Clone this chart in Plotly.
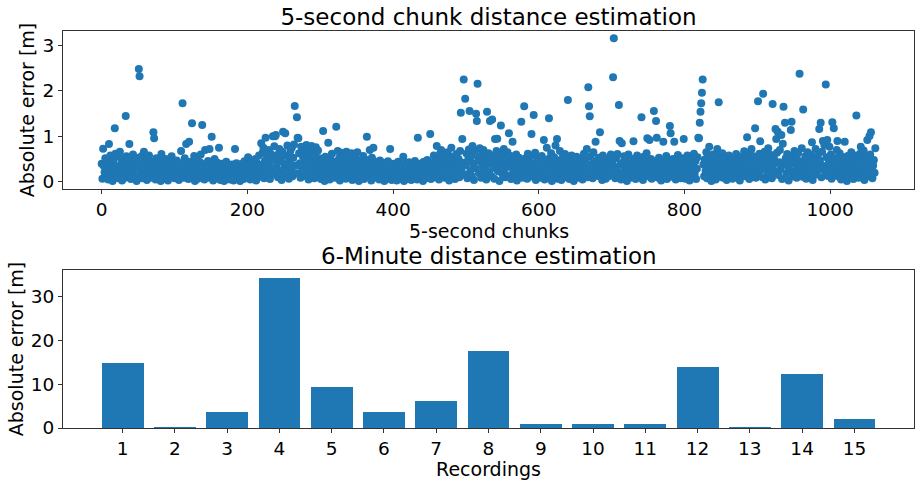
import plotly.graph_objects as go
from plotly.subplots import make_subplots

# ---- Data: 5-second chunk absolute errors [m] ----
err_000 = [0.40, 0.07, 0.73, 0.35, 0.21, 0.52, 0.10, 0.44, 0.28, 0.05, 0.83, 0.31, 0.58, 0.16, 0.39, 0.02, 0.47, 0.25, 1.18, 0.62,
           0.12, 0.34, 0.55, 0.08, 0.29, 0.66, 0.18, 0.41, 0.03, 0.50, 0.22, 0.37, 0.09, 1.45, 0.56, 0.27, 0.14, 0.48, 0.83, 0.33,
           0.06, 0.45, 0.19, 0.60, 0.26, 0.11, 0.38, 0.53, 0.02, 0.30, 0.42, 2.48, 2.32, 0.15, 0.36, 0.57, 0.08, 0.24, 0.66, 0.43,
           0.13, 0.31, 0.04, 0.49, 0.20, 0.58, 0.35, 0.09, 0.27, 0.44, 0.17, 1.09, 0.96, 0.38, 0.05, 0.52, 0.23, 0.32, 0.11, 0.46,
           0.28, 0.02, 0.61, 0.19, 0.40, 0.07, 0.34, 0.25, 0.50, 0.14, 0.37, 0.03, 0.29, 0.45, 0.10, 0.21, 0.56, 0.33, 0.16, 0.42]
err_100 = [0.08, 0.36, 0.22, 0.47, 0.13, 0.30, 0.04, 0.41, 0.26, 0.68, 0.18, 1.73, 0.35, 0.09, 0.52, 0.24, 0.83, 0.15, 0.39, 0.06,
           0.88, 0.28, 0.44, 0.11, 1.29, 0.33, 0.20, 0.57, 0.02, 0.38, 0.25, 0.49, 0.07, 0.31, 0.16, 0.43, 0.60, 0.12, 1.25, 0.34,
           0.21, 0.05, 0.70, 0.40, 0.27, 0.14, 0.46, 0.09, 0.72, 0.32, 0.19, 0.99, 0.37, 0.03, 0.24, 0.50, 0.13, 0.29, 0.08, 0.42,
           0.17, 0.75, 0.26, 0.04, 0.35, 0.11, 0.40, 0.22, 0.02, 0.31, 0.15, 0.44, 0.07, 0.28, 0.19, 0.36, 0.05, 0.25, 0.12, 0.38,
           0.21, 0.03, 0.30, 0.72, 0.14, 0.41, 0.08, 0.26, 0.18, 0.33, 0.02, 0.23, 0.39, 0.10, 0.29, 0.06, 0.45, 0.16, 0.34, 0.09]
err_200 = [0.27, 0.54, 0.12, 0.38, 0.05, 0.31, 0.46, 0.19, 0.09, 0.35, 0.24, 0.50, 0.03, 0.42, 0.16, 0.29, 0.58, 0.11, 0.37, 0.85,
           0.22, 0.64, 0.75, 0.08, 0.45, 0.97, 0.30, 0.55, 0.14, 0.70, 0.40, 0.06, 0.62, 0.26, 0.48, 1.00, 0.18, 0.78, 1.00, 1.03,
           0.33, 0.59, 0.10, 0.44, 0.72, 0.21, 0.51, 0.04, 0.66, 1.10, 0.28, 0.39, 1.07, 0.15, 0.57, 0.80, 0.34, 0.07, 0.46, 0.68,
           0.25, 0.75, 0.12, 0.53, 0.82, 1.67, 0.36, 0.19, 1.42, 0.97, 0.96, 0.63, 0.41, 0.09, 0.77, 0.30, 0.56, 0.22, 0.70, 0.47,
           0.13, 0.81, 0.38, 0.60, 0.05, 0.74, 0.27, 0.49, 0.79, 0.16, 0.65, 0.35, 0.08, 0.57, 0.76, 0.24, 0.43, 0.69, 0.11, 0.52]
err_300 = [0.30, 0.06, 0.45, 0.18, 1.12, 0.37, 0.02, 0.55, 0.24, 0.41, 0.11, 0.86, 0.33, 0.05, 0.49, 0.20, 0.62, 0.14, 0.38, 0.27,
           0.09, 0.44, 1.21, 0.31, 0.68, 0.17, 0.52, 0.03, 0.36, 0.64, 0.22, 0.47, 0.12, 0.58, 0.29, 0.07, 0.66, 0.40, 0.19, 0.34,
           0.54, 0.10, 0.26, 0.63, 0.04, 0.43, 0.21, 0.35, 0.08, 0.50, 0.15, 0.65, 0.28, 0.02, 0.39, 0.23, 0.46, 0.13, 0.32, 0.57,
           0.06, 0.41, 0.19, 0.30, 0.99, 0.11, 0.48, 0.25, 0.70, 0.36, 0.03, 0.53, 0.17, 0.75, 0.28, 0.09, 0.44, 0.22, 0.38, 0.14,
           0.31, 0.05, 0.47, 0.20, 0.35, 0.10, 0.42, 0.26, 0.02, 0.39, 0.16, 0.30, 0.07, 0.45, 0.24, 0.12, 0.72, 0.33, 0.04, 0.28]
err_400 = [0.18, 0.40, 0.09, 0.27, 0.35, 0.03, 0.22, 0.44, 0.13, 0.31, 0.06, 0.25, 0.38, 0.15, 0.55, 0.02, 0.29, 0.41, 0.11, 0.20,
           0.34, 0.07, 0.43, 0.18, 0.26, 0.04, 0.37, 0.14, 0.30, 0.09, 0.46, 0.21, 0.33, 0.05, 0.97, 0.24, 0.12, 0.40, 0.28, 0.16,
           0.36, 0.02, 0.44, 0.19, 0.31, 0.08, 0.25, 0.48, 0.13, 0.38, 0.22, 1.05, 0.06, 0.34, 0.17, 0.42, 0.58, 0.27, 0.10, 0.45,
           0.79, 0.20, 0.52, 0.05, 0.33, 0.64, 0.70, 0.15, 0.41, 0.26, 0.57, 0.09, 0.36, 0.47, 0.12, 0.65, 0.30, 0.03, 0.49, 0.23,
           0.75, 0.38, 0.14, 0.55, 0.27, 0.06, 0.44, 0.61, 0.19, 0.35, 0.50, 0.10, 0.68, 1.52, 0.29, 0.94, 0.42, 2.25, 0.16, 1.83]
err_500 = [0.37, 0.62, 0.08, 0.48, 0.71, 1.56, 0.25, 0.55, 0.13, 0.79, 0.40, 0.04, 0.66, 0.30, 1.50, 1.34, 2.16, 0.52, 0.19, 0.74,
           0.44, 0.09, 0.60, 0.33, 0.70, 0.16, 0.51, 0.27, 0.05, 1.54, 0.39, 0.63, 0.21, 1.34, 0.47, 0.12, 1.37, 0.58, 0.31, 0.07,
           0.94, 0.42, 0.68, 0.95, 0.23, 0.54, 0.02, 0.36, 1.24, 0.61, 0.17, 0.45, 0.72, 0.28, 0.10, 0.50, 0.38, 0.65, 0.14, 1.07,
           0.33, 0.57, 0.06, 0.41, 0.88, 0.22, 0.49, 0.12, 0.35, 0.60, 0.03, 0.44, 0.26, 0.53, 0.18, 0.39, 1.32, 0.09, 0.47, 0.30,
           1.66, 0.15, 0.52, 0.36, 0.07, 0.62, 0.24, 0.43, 0.11, 0.56, 1.05, 0.29, 0.40, 1.47, 0.20, 0.64, 0.04, 0.34, 0.50, 0.17]
err_600 = [0.38, 0.09, 0.46, 0.23, 0.57, 0.14, 0.31, 0.92, 0.05, 0.42, 0.27, 0.75, 0.18, 0.50, 1.40, 0.35, 0.11, 0.63, 0.02, 0.40,
           0.25, 0.54, 0.13, 0.80, 0.33, 0.94, 0.07, 0.46, 0.20, 0.68, 0.37, 0.04, 0.52, 0.28, 0.16, 0.44, 0.61, 0.10, 0.35, 0.22,
           1.80, 0.48, 0.06, 0.39, 0.26, 0.58, 0.15, 0.33, 0.02, 0.45, 0.21, 0.36, 0.55, 0.09, 0.30, 0.19, 0.43, 0.12, 0.50, 0.27,
           0.05, 0.38, 0.62, 0.17, 0.47, 0.31, 0.72, 0.10, 2.08, 1.66, 1.44, 0.56, 0.24, 0.40, 0.08, 0.65, 0.34, 0.19, 0.88, 0.45,
           0.29, 0.13, 0.53, 0.36, 1.09, 0.22, 0.47, 0.04, 0.58, 0.31, 0.16, 0.41, 0.07, 0.35, 0.50, 0.24, 0.12, 0.44, 0.28, 0.60]
err_700 = [0.19, 0.46, 2.30, 3.16, 0.33, 0.08, 0.52, 0.27, 0.61, 0.14, 1.69, 0.90, 0.38, 0.05, 0.85, 0.42, 0.22, 0.56, 0.11, 0.34,
           0.47, 0.02, 0.29, 0.60, 0.17, 0.40, 0.09, 0.51, 0.25, 0.36, 0.89, 0.13, 0.44, 0.06, 0.31, 0.58, 0.20, 0.39, 0.10, 0.48,
           0.26, 1.42, 0.35, 0.04, 0.55, 0.18, 0.43, 0.29, 0.63, 0.96, 0.12, 0.37, 0.92, 0.23, 0.50, 0.07, 0.33, 0.45, 1.56, 0.16,
           0.41, 1.34, 0.97, 0.28, 0.09, 0.53, 0.21, 0.38, 0.03, 0.47, 0.30, 0.88, 0.14, 0.42, 0.25, 0.57, 0.06, 0.35, 0.19, 0.44,
           1.23, 1.07, 0.32, 0.11, 0.50, 0.24, 0.88, 0.40, 0.05, 0.36, 0.20, 0.59, 0.13, 0.45, 0.28, 0.08, 0.39, 0.52, 0.17, 0.94]
err_800 = [0.31, 0.07, 0.46, 0.22, 0.58, 0.14, 0.37, 0.03, 0.50, 0.26, 0.41, 0.10, 0.33, 0.62, 0.18, 0.45, 0.06, 0.29, 0.54, 0.97,
           0.96, 1.30, 1.54, 1.73, 1.96, 2.25, 0.38, 0.12, 0.49, 0.24, 0.65, 0.08, 0.35, 0.43, 0.77, 0.19, 0.52, 0.02, 0.30, 0.60,
           0.15, 0.44, 0.27, 0.05, 0.56, 0.72, 0.36, 1.75, 0.11, 0.48, 0.21, 0.39, 0.63, 0.09, 0.32, 0.17, 0.53, 0.25, 0.04, 0.41,
           0.28, 0.58, 0.13, 0.46, 0.20, 0.35, 0.07, 0.51, 0.30, 0.16, 0.42, 0.61, 0.10, 0.37, 0.23, 0.49, 0.03, 0.33, 0.55, 0.19,
           0.44, 0.26, 0.67, 0.12, 0.38, 0.53, 0.98, 0.21, 0.47, 0.06, 0.60, 0.31, 0.72, 0.15, 0.40, 0.56, 0.24, 1.18, 0.09, 0.50]
err_900 = [0.35, 1.77, 0.18, 0.62, 0.89, 0.27, 0.48, 0.10, 1.94, 0.41, 0.66, 0.05, 0.33, 0.55, 0.20, 0.74, 0.13, 0.45, 0.29, 0.59,
           0.08, 1.71, 0.37, 0.50, 0.22, 1.16, 0.94, 0.64, 1.10, 0.15, 0.43, 0.70, 0.28, 1.03, 0.06, 0.84, 1.65, 0.39, 1.30, 0.52,
           0.19, 0.61, 0.34, 0.03, 0.47, 0.25, 1.14, 1.32, 0.57, 0.12, 0.40, 0.68, 0.23, 0.51, 0.09, 0.36, 0.63, 0.17, 2.38, 0.45,
           0.30, 0.74, 0.11, 1.59, 0.42, 0.20, 0.56, 0.07, 0.38, 0.65, 0.26, 0.49, 0.14, 0.60, 0.33, 0.87, 0.04, 0.44, 0.21, 0.53,
           0.72, 0.16, 0.39, 0.58, 0.27, 1.16, 0.47, 1.30, 0.10, 0.66, 0.90, 0.35, 0.81, 0.22, 2.14, 0.54, 0.92, 0.13, 0.41, 0.77]
err_1000 = [0.28, 0.60, 0.07, 1.31, 0.45, 1.18, 0.19, 0.52, 0.34, 0.70, 0.90, 0.12, 0.41, 0.63, 0.24, 0.05, 0.55, 0.30, 0.16, 0.47,
            0.88, 0.21, 0.38, 0.02, 0.57, 0.33, 0.10, 0.49, 0.26, 0.65, 0.14, 0.43, 0.06, 0.36, 0.58, 0.20, 1.46, 0.31, 0.52, 0.09,
            0.40, 0.62, 0.77, 0.17, 0.48, 0.27, 0.69, 0.04, 0.35, 0.55, 0.23, 0.92, 0.44, 0.13, 1.01, 0.60, 1.09, 0.29, 0.08, 0.36,
            0.48, 0.20, 0.74]

chunk_errors = (err_000 + err_100 + err_200 + err_300 + err_400 + err_500 + err_600
                + err_700 + err_800 + err_900 + err_1000)
chunk_index = list(range(len(chunk_errors)))

# ---- Data: 6-minute recordings absolute errors [m] ----
recordings = [1, 2, 3, 4, 5, 6, 7, 8, 9, 10, 11, 12, 13, 14, 15]
recording_errors = [14.9, 0.1, 3.7, 34.4, 9.4, 3.7, 6.1, 17.6, 1.0, 0.9, 0.9, 14.0, 0.2, 12.3, 2.1]

x_ticks_top = [0, 200, 400, 600, 800, 1000]
y_ticks_top = [0, 1, 2, 3]
y_ticks_bottom = [0, 10, 20, 30]

BLUE = "#1f77b4"
FONT = "DejaVu Sans"

fig = make_subplots(rows=2, cols=1)

fig.add_trace(go.Scatter(x=chunk_index, y=chunk_errors, mode="markers",
                         marker=dict(color=BLUE, size=8, line=dict(width=0)),
                         showlegend=False), row=1, col=1)
fig.add_trace(go.Bar(x=recordings, y=recording_errors, width=0.8,
                     marker=dict(color=BLUE, line=dict(width=0)),
                     showlegend=False), row=2, col=1)

n = len(chunk_errors) - 1
ymax_top = max(chunk_errors)
ymax_bot = max(recording_errors)

axis_common = dict(showline=True, linecolor="#333333", linewidth=1, mirror=True,
                   ticks="outside", ticklen=4, tickwidth=1, tickcolor="#333333",
                   showgrid=False, zeroline=False, automargin=False,
                   tickfont=dict(family=FONT, size=18.5, color="black"))

fig.update_xaxes(**axis_common)
fig.update_yaxes(**axis_common)

title_font = dict(family=FONT, size=19, color="black")

fig.update_layout(
    xaxis=dict(domain=[0, 1], range=[-0.05 * n, n * 1.05], tickvals=x_ticks_top),
    yaxis=dict(domain=[0.602, 1.0], range=[-0.05 * ymax_top, ymax_top * 1.05], tickvals=y_ticks_top,
               title=dict(text="Absolute error [m]", font=title_font, standoff=2)),
    xaxis2=dict(domain=[0, 1], range=[0.6 - 0.74, 15.4 + 0.74], tickvals=recordings,
                title=dict(text="Recordings", font=title_font, standoff=3)),
    yaxis2=dict(domain=[0, 0.398], range=[0, ymax_bot * 1.05], tickvals=y_ticks_bottom,
                title=dict(text="Absolute error [m]", font=title_font, standoff=2)),
    title=dict(text="5-second chunk distance estimation", x=(488.5 / 916), xanchor="center",
               y=1 - 17 / 480, yanchor="middle", yref="container",
               font=dict(family=FONT, size=23, color="black")),
)

def py(p):
    return (428 - p) / 397.0

fig.add_annotation(text="5-second chunks", x=0.5, y=py(231),
                   xref="paper", yref="paper", xanchor="center", yanchor="middle",
                   showarrow=False, font=title_font)
fig.add_annotation(text="6-Minute distance estimation", x=0.5, y=py(256),
                   xref="paper", yref="paper", xanchor="center", yanchor="middle",
                   showarrow=False, font=dict(family=FONT, size=23, color="black"))

fig.update_layout(width=916, height=480, margin=dict(l=63, r=2, t=31, b=52),
                  plot_bgcolor="white", paper_bgcolor="white", bargap=0,
                  font=dict(family=FONT, color="black"))

fig.write_html("out.html", config={"displayModeBar": False},
               post_script="document.body.style.margin='0px';document.body.style.overflow='hidden';")
